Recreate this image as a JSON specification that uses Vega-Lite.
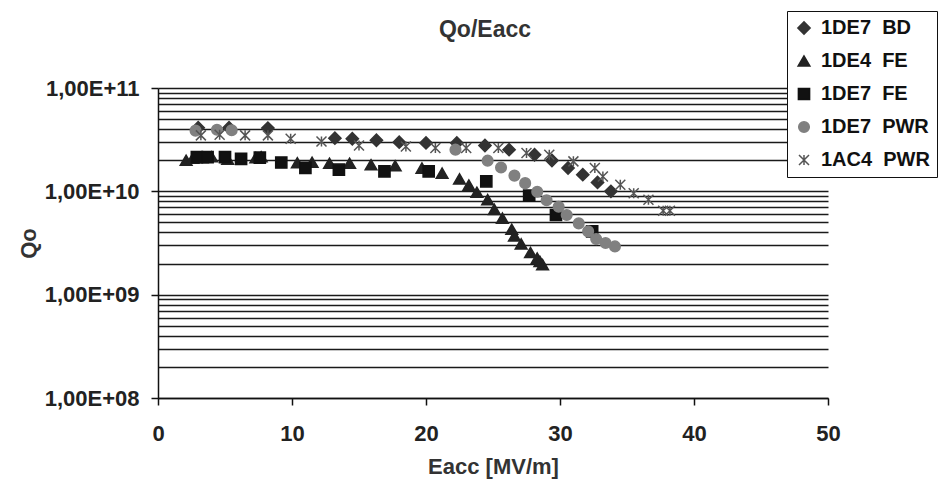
{
  "$schema": "https://vega.github.io/schema/vega-lite/v6.json",
  "width": 670,
  "height": 310,
  "autosize": {"type": "none"},
  "padding": {"left": 158, "top": 88, "right": 113, "bottom": 81},
  "background": "white",
  "config": {
    "view": {"stroke": null},
    "font": "Liberation Sans",
    "axis": {"labelFont": "Liberation Sans", "titleFont": "Liberation Sans"}
  },
  "title": {
    "text": "Qo/Eacc",
    "font": "Liberation Sans",
    "fontSize": 23,
    "fontWeight": "bold",
    "color": "#333333",
    "anchor": "middle",
    "baseline": "bottom",
    "offset": 0,
    "dy": 54,
    "dx": -8
  },
  "data": {
    "values": [
      {"s": "1DE7 BD", "e": 3.0, "q": 4.13e10},
      {"s": "1DE7 BD", "e": 5.3, "q": 4.13e10},
      {"s": "1DE7 BD", "e": 8.2, "q": 4.09e10},
      {"s": "1DE7 BD", "e": 13.2, "q": 3.27e10},
      {"s": "1DE7 BD", "e": 14.5, "q": 3.23e10},
      {"s": "1DE7 BD", "e": 16.3, "q": 3.12e10},
      {"s": "1DE7 BD", "e": 18.0, "q": 2.99e10},
      {"s": "1DE7 BD", "e": 20.0, "q": 2.94e10},
      {"s": "1DE7 BD", "e": 22.3, "q": 2.94e10},
      {"s": "1DE7 BD", "e": 24.4, "q": 2.78e10},
      {"s": "1DE7 BD", "e": 26.2, "q": 2.53e10},
      {"s": "1DE7 BD", "e": 28.1, "q": 2.26e10},
      {"s": "1DE7 BD", "e": 29.4, "q": 1.99e10},
      {"s": "1DE7 BD", "e": 30.6, "q": 1.68e10},
      {"s": "1DE7 BD", "e": 31.7, "q": 1.45e10},
      {"s": "1DE7 BD", "e": 32.8, "q": 1.22e10},
      {"s": "1DE7 BD", "e": 33.8, "q": 1.0e10},
      {"s": "1DE4 FE", "e": 2.1, "q": 2.0e10},
      {"s": "1DE4 FE", "e": 2.6, "q": 2.09e10},
      {"s": "1DE4 FE", "e": 3.3, "q": 2.12e10},
      {"s": "1DE4 FE", "e": 4.0, "q": 2.16e10},
      {"s": "1DE4 FE", "e": 5.2, "q": 2.05e10},
      {"s": "1DE4 FE", "e": 7.3, "q": 2.12e10},
      {"s": "1DE4 FE", "e": 7.7, "q": 2.16e10},
      {"s": "1DE4 FE", "e": 10.4, "q": 1.89e10},
      {"s": "1DE4 FE", "e": 11.5, "q": 1.91e10},
      {"s": "1DE4 FE", "e": 12.8, "q": 1.87e10},
      {"s": "1DE4 FE", "e": 14.3, "q": 1.87e10},
      {"s": "1DE4 FE", "e": 15.9, "q": 1.81e10},
      {"s": "1DE4 FE", "e": 17.7, "q": 1.77e10},
      {"s": "1DE4 FE", "e": 19.7, "q": 1.68e10},
      {"s": "1DE4 FE", "e": 21.2, "q": 1.5e10},
      {"s": "1DE4 FE", "e": 22.5, "q": 1.32e10},
      {"s": "1DE4 FE", "e": 23.2, "q": 1.15e10},
      {"s": "1DE4 FE", "e": 23.8, "q": 9.8e9},
      {"s": "1DE4 FE", "e": 24.6, "q": 8.3e9},
      {"s": "1DE4 FE", "e": 25.1, "q": 6.7e9},
      {"s": "1DE4 FE", "e": 25.7, "q": 5.5e9},
      {"s": "1DE4 FE", "e": 26.4, "q": 4.3e9},
      {"s": "1DE4 FE", "e": 26.6, "q": 3.7e9},
      {"s": "1DE4 FE", "e": 27.1, "q": 3.1e9},
      {"s": "1DE4 FE", "e": 27.8, "q": 2.56e9},
      {"s": "1DE4 FE", "e": 28.3, "q": 2.26e9},
      {"s": "1DE4 FE", "e": 28.5, "q": 2.1e9},
      {"s": "1DE4 FE", "e": 28.7, "q": 1.95e9},
      {"s": "1DE7 FE", "e": 2.9, "q": 2.14e10},
      {"s": "1DE7 FE", "e": 3.7, "q": 2.14e10},
      {"s": "1DE7 FE", "e": 5.0, "q": 2.14e10},
      {"s": "1DE7 FE", "e": 6.2, "q": 2.06e10},
      {"s": "1DE7 FE", "e": 7.6, "q": 2.12e10},
      {"s": "1DE7 FE", "e": 9.2, "q": 1.9e10},
      {"s": "1DE7 FE", "e": 11.0, "q": 1.69e10},
      {"s": "1DE7 FE", "e": 13.5, "q": 1.62e10},
      {"s": "1DE7 FE", "e": 16.9, "q": 1.56e10},
      {"s": "1DE7 FE", "e": 20.2, "q": 1.56e10},
      {"s": "1DE7 FE", "e": 24.5, "q": 1.25e10},
      {"s": "1DE7 FE", "e": 27.7, "q": 9.1e9},
      {"s": "1DE7 FE", "e": 29.7, "q": 5.9e9},
      {"s": "1DE7 FE", "e": 32.4, "q": 4.1e9},
      {"s": "1DE7 PWR", "e": 2.8, "q": 3.87e10},
      {"s": "1DE7 PWR", "e": 4.4, "q": 3.95e10},
      {"s": "1DE7 PWR", "e": 5.5, "q": 3.9e10},
      {"s": "1DE7 PWR", "e": 22.2, "q": 2.53e10},
      {"s": "1DE7 PWR", "e": 24.6, "q": 1.98e10},
      {"s": "1DE7 PWR", "e": 25.6, "q": 1.7e10},
      {"s": "1DE7 PWR", "e": 26.6, "q": 1.42e10},
      {"s": "1DE7 PWR", "e": 27.4, "q": 1.2e10},
      {"s": "1DE7 PWR", "e": 28.3, "q": 9.9e9},
      {"s": "1DE7 PWR", "e": 29.0, "q": 8.2e9},
      {"s": "1DE7 PWR", "e": 29.9, "q": 7.1e9},
      {"s": "1DE7 PWR", "e": 30.5, "q": 5.9e9},
      {"s": "1DE7 PWR", "e": 31.4, "q": 4.9e9},
      {"s": "1DE7 PWR", "e": 32.1, "q": 4.1e9},
      {"s": "1DE7 PWR", "e": 32.7, "q": 3.45e9},
      {"s": "1DE7 PWR", "e": 33.4, "q": 3.16e9},
      {"s": "1DE7 PWR", "e": 34.1, "q": 2.93e9},
      {"s": "1AC4 PWR", "e": 3.2, "q": 3.48e10},
      {"s": "1AC4 PWR", "e": 4.6, "q": 3.53e10},
      {"s": "1AC4 PWR", "e": 6.5, "q": 3.48e10},
      {"s": "1AC4 PWR", "e": 8.2, "q": 3.48e10},
      {"s": "1AC4 PWR", "e": 9.9, "q": 3.23e10},
      {"s": "1AC4 PWR", "e": 12.2, "q": 3.04e10},
      {"s": "1AC4 PWR", "e": 15.0, "q": 2.78e10},
      {"s": "1AC4 PWR", "e": 18.5, "q": 2.72e10},
      {"s": "1AC4 PWR", "e": 20.7, "q": 2.63e10},
      {"s": "1AC4 PWR", "e": 23.0, "q": 2.63e10},
      {"s": "1AC4 PWR", "e": 25.4, "q": 2.63e10},
      {"s": "1AC4 PWR", "e": 27.5, "q": 2.35e10},
      {"s": "1AC4 PWR", "e": 29.2, "q": 2.26e10},
      {"s": "1AC4 PWR", "e": 31.0, "q": 1.95e10},
      {"s": "1AC4 PWR", "e": 32.6, "q": 1.68e10},
      {"s": "1AC4 PWR", "e": 33.2, "q": 1.39e10},
      {"s": "1AC4 PWR", "e": 34.5, "q": 1.16e10},
      {"s": "1AC4 PWR", "e": 35.5, "q": 9.6e9},
      {"s": "1AC4 PWR", "e": 36.6, "q": 8.3e9},
      {"s": "1AC4 PWR", "e": 37.7, "q": 6.5e9},
      {"s": "1AC4 PWR", "e": 38.2, "q": 6.5e9}
    ]
  },
  "mark": {"type": "point", "filled": true, "opacity": 1, "strokeWidth": 1.5},
  "encoding": {
    "x": {
      "field": "e",
      "type": "quantitative",
      "scale": {"domain": [0, 50], "nice": false, "zero": false},
      "axis": {
        "title": "Eacc [MV/m]",
        "values": [0, 10, 20, 30, 40, 50],
        "grid": false,
        "domainColor": "#111111",
        "domainWidth": 1.5,
        "tickColor": "#111111",
        "tickWidth": 1.5,
        "tickSize": 7,
        "labelFontSize": 22,
        "labelFontWeight": "bold",
        "labelColor": "#222222",
        "labelPadding": 18,
        "labelFlush": false,
        "titleFontSize": 22,
        "titleFontWeight": "bold",
        "titleColor": "#333333",
        "titlePadding": 12
      }
    },
    "y": {
      "field": "q",
      "type": "quantitative",
      "scale": {"type": "log", "domain": [1e8, 1e11], "nice": false},
      "axis": {
        "title": "Qo",
        "values": [1e8, 2e8, 3e8, 4e8, 5e8, 6e8, 7e8, 8e8, 9e8, 1e9, 2e9, 3e9, 4e9, 5e9, 6e9, 7e9, 8e9, 9e9, 1e10, 2e10, 3e10, 4e10, 5e10, 6e10, 7e10, 8e10, 9e10, 1e11],
        "labelExpr": "abs(log(datum.value)/LN10 - round(log(datum.value)/LN10)) < 0.001 ? '1,00E+' + (round(log(datum.value)/LN10) < 10 ? '0' : '') + round(log(datum.value)/LN10) : ''",
        "tickOpacity": {"condition": {"test": "abs(log(datum.value)/LN10 - round(log(datum.value)/LN10)) < 0.001", "value": 1}, "value": 0},
        "grid": true,
        "gridColor": "#1a1a1a",
        "gridWidth": 1.5,
        "gridOpacity": 1,
        "domainColor": "#111111",
        "domainWidth": 1.5,
        "tickColor": "#111111",
        "tickWidth": 1.5,
        "tickSize": 7,
        "labelFontSize": 22,
        "labelFontWeight": "bold",
        "labelColor": "#222222",
        "labelPadding": 12,
        "labelFlush": false,
        "labelOverlap": false,
        "titleFontSize": 22,
        "titleFontWeight": "bold",
        "titleColor": "#333333",
        "titlePadding": 4
      }
    },
    "color": {
      "field": "s",
      "type": "nominal",
      "scale": {
        "domain": ["1DE7 BD", "1DE4 FE", "1DE7 FE", "1DE7 PWR", "1AC4 PWR"],
        "range": ["#333333", "#222222", "#111111", "#808080", "#555555"]
      },
      "legend": {
        "title": null,
        "orient": "none",
        "legendX": 629,
        "legendY": -77,
        "strokeColor": "#111111",
        "fillColor": "white",
        "padding": 7,
        "rowPadding": 13,
        "symbolSize": 60,
        "symbolStrokeWidth": 1.5,
        "labelFontSize": 20,
        "labelFontWeight": "bold",
        "labelColor": "#111111",
        "labelFont": "Liberation Sans",
        "labelOffset": 7,
        "labelLimit": 400,
        "labelExpr": "replace(datum.label, ' ', '\u00a0\u00a0')"
      }
    },
    "stroke": {
      "field": "s",
      "type": "nominal",
      "scale": {
        "domain": ["1DE7 BD", "1DE4 FE", "1DE7 FE", "1DE7 PWR", "1AC4 PWR"],
        "range": ["#333333", "#222222", "#111111", "#808080", "#555555"]
      },
      "legend": {
        "title": null,
        "orient": "none",
        "legendX": 629,
        "legendY": -77,
        "strokeColor": "#111111",
        "fillColor": "white",
        "padding": 7,
        "rowPadding": 13,
        "symbolSize": 60,
        "symbolStrokeWidth": 1.5,
        "labelFontSize": 20,
        "labelFontWeight": "bold",
        "labelColor": "#111111",
        "labelFont": "Liberation Sans",
        "labelOffset": 7,
        "labelLimit": 400,
        "labelExpr": "replace(datum.label, ' ', '\u00a0\u00a0')"
      }
    },
    "shape": {
      "field": "s",
      "type": "nominal",
      "scale": {
        "domain": ["1DE7 BD", "1DE4 FE", "1DE7 FE", "1DE7 PWR", "1AC4 PWR"],
        "range": ["diamond", "triangle-up", "square", "circle", "M-1,-1L1,1M-1,1L1,-1M0,-1L0,1"]
      },
      "legend": {
        "title": null,
        "orient": "none",
        "legendX": 629,
        "legendY": -77,
        "strokeColor": "#111111",
        "fillColor": "white",
        "padding": 7,
        "rowPadding": 13,
        "symbolSize": 60,
        "symbolStrokeWidth": 1.5,
        "labelFontSize": 20,
        "labelFontWeight": "bold",
        "labelColor": "#111111",
        "labelFont": "Liberation Sans",
        "labelOffset": 7,
        "labelLimit": 400,
        "labelExpr": "replace(datum.label, ' ', '\u00a0\u00a0')"
      }
    },
    "size": {
      "field": "s",
      "type": "nominal",
      "scale": {
        "domain": ["1DE7 BD", "1DE4 FE", "1DE7 FE", "1DE7 PWR", "1AC4 PWR"],
        "range": [150, 100, 80, 90, 110]
      },
      "legend": null
    }
  }
}
